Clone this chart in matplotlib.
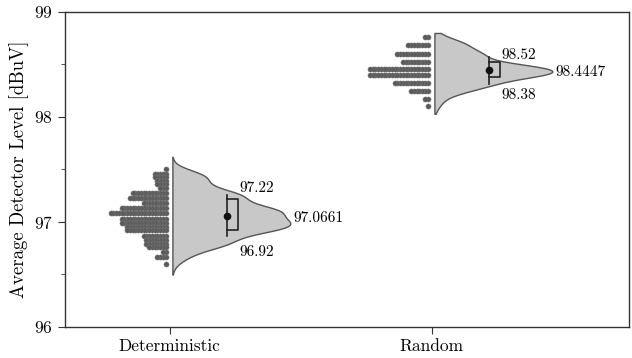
import numpy as np
import matplotlib
matplotlib.use('Agg')
import matplotlib.pyplot as plt

plt.rcParams['font.family'] = ['cmr10', 'DejaVu Serif']
plt.rcParams['mathtext.fontset'] = 'cm'
plt.rcParams['axes.formatter.use_mathtext'] = True

# data
categories = ['Deterministic', 'Random']

det_levels = [97.50, 97.46, 97.43, 97.39, 97.36, 97.32, 97.28, 97.23, 97.18, 97.13, 97.09,
              97.03, 96.99, 96.95, 96.92, 96.87, 96.83, 96.79, 96.76, 96.71, 96.67, 96.60]
det_counts = [1, 5, 5, 4, 4, 3, 13, 14, 9, 17, 21, 17, 17, 15, 15, 9, 8, 8, 7, 2, 4, 1]

rand_levels = [98.76, 98.69, 98.60, 98.52, 98.46, 98.40, 98.32, 98.25, 98.17, 98.10]
rand_counts = [2, 8, 12, 10, 22, 22, 13, 7, 2, 1]

# how far the violin runs past the data (top, bottom)
cut_hi = [0.12, 0.04]
cut_lo = [0.10, 0.07]

centers = [97.06, 98.45]
q1 = [96.92, 98.38]
q3 = [97.22, 98.52]
lo = [96.87, 98.31]
hi = [97.26, 98.57]
q1_labels = ['96.92', '98.38']
q3_labels = ['97.22', '98.52']
peak_labels = ['97.0661', '98.4447']
peak_text_y = [97.04, 98.43]
q3_text_y = [97.29, 98.55]
q1_text_y = [96.78, 98.27]

# 图
fig = plt.figure(figsize=(6.32, 3.58), dpi=100)
ax = fig.add_axes([0.1028, 0.0866, 0.8922, 0.88])

groups = [(det_levels, det_counts), (rand_levels, rand_counts)]
bws = [0.055, 0.05]
for i, (levels, counts) in enumerate(groups):
    data = np.repeat(levels, counts)
    bw = bws[i]
    # half violin (kde)
    ys = np.linspace(min(levels) - cut_lo[i], max(levels) + cut_hi[i], 300)
    dens = np.exp(-0.5 * ((ys[:, None] - data[None, :]) / bw) ** 2).sum(axis=1)
    dens = dens / dens.max() * 0.45
    ax.fill_betweenx(ys, i + 0.01, i + 0.01 + dens, color='#c8c8c8',
                     edgecolor='#555555', linewidth=1.0, zorder=2)
    ax.text(i + 0.01 + dens.max() + 0.012, peak_text_y[i], peak_labels[i], fontsize=11,
            va='center', ha='left')

    # dots
    for lev, c in zip(levels, counts):
        xs = i - 0.016 - 0.0105 * np.arange(c)
        ax.scatter(xs, np.full(c, lev), s=14, color='#5a5a5a', edgecolors='#808080',
                   linewidths=0.3, zorder=3)

    # box
    x0 = i + 0.218
    w = 0.042
    ax.plot([x0, x0], [lo[i], hi[i]], color='#222222', lw=1.2, zorder=4)
    ax.plot([x0, x0 + w, x0 + w, x0], [q3[i], q3[i], q1[i], q1[i]],
            color='#222222', lw=1.2, zorder=4)
    ax.plot([x0], [centers[i]], 'o', color='#111111', ms=4.5, zorder=5)
    ax.text(x0 + w + 0.004, q3_text_y[i], q3_labels[i], fontsize=11,
            va='baseline', ha='left')
    ax.text(x0 + w + 0.004, q1_text_y[i], q1_labels[i], fontsize=11,
            va='top', ha='left')

ax.set_xlim(-0.40, 1.752)
ax.set_ylim(96, 99)
ax.set_xticks([0, 1])
ax.set_xticklabels(categories)
ax.set_yticks([96, 97, 98, 99])
ax.set_yticks([96.5, 97.5, 98.5], minor=True)
ax.tick_params(axis='both', which='major', labelsize=12.5, length=5, color='#333333')
ax.tick_params(axis='y', which='minor', length=3, color='#333333')
ax.set_ylabel('Average Detector Level [dBuV]', fontsize=13.5)
for s in ax.spines.values():
    s.set_color('#333333')
    s.set_linewidth(1.0)

fig.savefig('out.png', dpi=100)
